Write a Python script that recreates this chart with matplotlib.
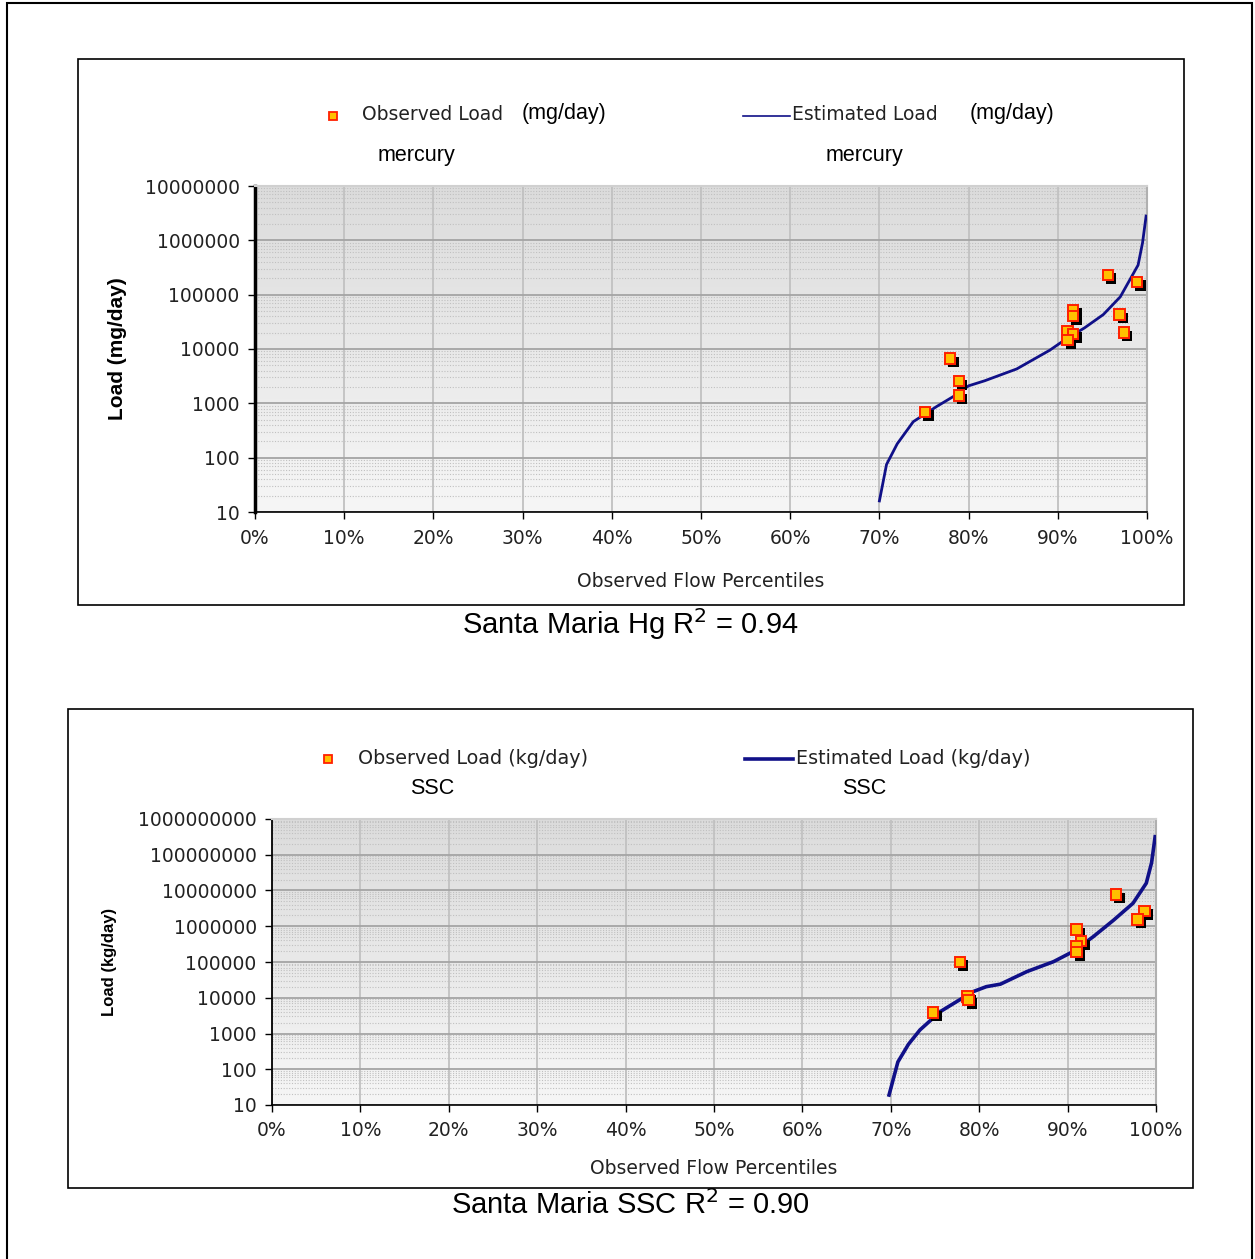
import numpy as np
import matplotlib
matplotlib.use("Agg")
import matplotlib.pyplot as plt
import matplotlib.patheffects as pe
from matplotlib.patches import Rectangle
from matplotlib.colors import LinearSegmentedColormap
from matplotlib.ticker import FixedLocator, LogLocator, NullFormatter

# ---------------- data ----------------
hg_obs_pct = [75.1, 77.9, 78.9, 78.9, 91.7, 91.7, 91.1, 91.7, 91.1, 95.6, 96.9, 97.4, 98.9]
hg_obs_load = [690, 6700, 2550, 1400, 52000, 40000, 21000, 19000, 14500, 230000, 43000, 20000, 170000]
hg_est_pct = [70.0, 70.8, 72.0, 73.8, 76.4, 78.5, 80.0, 81.8, 85.4, 89.1, 90.8, 93.0, 95.1, 97.0, 99.0, 99.5, 99.9]
hg_est_load = [16, 75, 180, 460, 870, 1400, 2100, 2600, 4300, 9500, 14800, 24500, 43000, 91000, 350000, 900000, 2800000]

ssc_obs_pct = [74.8, 77.8, 78.7, 78.8, 91.0, 91.5, 91.0, 91.0, 95.5, 98.7, 97.9]
ssc_obs_load = [3900, 100000, 10700, 8700, 810000, 380000, 270000, 190000, 7800000, 2700000, 1560000]
ssc_est_pct = [69.8, 70.8, 72.0, 73.3, 75.6, 79.3, 80.8, 82.4, 85.4, 88.4, 90.6, 92.9, 95.2, 97.4, 98.9, 99.5, 99.9]
ssc_est_load = [19, 160, 500, 1260, 4100, 14800, 20400, 24000, 54000, 102000, 195000, 510000, 1480000, 4400000, 16000000, 60000000, 320000000]

x_ticks = [0, 10, 20, 30, 40, 50, 60, 70, 80, 90, 100]
x_ticklabels = ["0%", "10%", "20%", "30%", "40%", "50%", "60%", "70%", "80%", "90%", "100%"]
hg_yticks = [10, 100, 1000, 10000, 100000, 1000000, 10000000]
ssc_yticks = [10, 100, 1000, 10000, 100000, 1000000, 10000000, 100000000, 1000000000]

W, H = 1255, 1259
fig = plt.figure(figsize=(W / 100, H / 100), dpi=100)
fig.patch.set_facecolor("white")

def fx(px):
    return px / W

def fy(py):
    return 1 - py / H

# outer border and chart boxes
fig.add_artist(Rectangle((fx(7), fy(1265)), fx(1252) - fx(7), fy(3) - fy(1265),
                         transform=fig.transFigure, fill=False, lw=1.5, ec="black"))
fig.add_artist(Rectangle((fx(78), fy(605)), fx(1184) - fx(78), fy(59) - fy(605),
                         transform=fig.transFigure, fill=False, lw=1.2, ec="black"))
fig.add_artist(Rectangle((fx(68), fy(1188)), fx(1193) - fx(68), fy(709) - fy(1188),
                         transform=fig.transFigure, fill=False, lw=1.2, ec="black"))

tick_font = dict(family="DejaVu Sans", size=13.5, color="#222222")
line_color = "#101088"
marker_face = "#ffc000"
marker_edge = "#ff2000"
shadow = [pe.SimplePatchShadow(offset=(2.5, -2.5), shadow_rgbFace="black", alpha=1.0), pe.Normal()]
bg_cmap = LinearSegmentedColormap.from_list("bg", ["#f6f6f6", "#dcdcdc"])


def style_axes(ax, yticks, ymax, left_lw, xpad):
    ax.set_xlim(0, 100)
    ax.set_ylim(10, ymax)
    ax.set_yscale("log")
    grad = np.linspace(0, 1, 256).reshape(-1, 1)
    ax.imshow(grad, extent=(0, 1, 0, 1), transform=ax.transAxes, cmap=bg_cmap,
              vmin=0, vmax=1, aspect="auto", zorder=0, origin="lower")
    ax.xaxis.set_major_locator(FixedLocator(x_ticks))
    ax.set_xticklabels(x_ticklabels, **tick_font)
    ax.yaxis.set_major_locator(FixedLocator(yticks))
    ax.set_yticklabels([str(v) for v in yticks], **tick_font)
    ax.yaxis.set_minor_locator(LogLocator(base=10, subs=np.arange(2, 10), numticks=20))
    ax.yaxis.set_minor_formatter(NullFormatter())
    ax.grid(axis="x", which="major", color="#c4c4c4", lw=1.4, zorder=1)
    ax.grid(axis="y", which="major", color="#a4a4a4", lw=1.3, zorder=1)
    ax.grid(axis="y", which="minor", color="#c0c0c0", lw=0.8, ls=(0, (1, 1.5)), zorder=1)
    ax.set_axisbelow(True)
    ax.tick_params(axis="y", which="minor", length=0)
    ax.tick_params(axis="y", which="major", direction="out", length=5, width=1, color="black", pad=6)
    ax.tick_params(axis="x", which="major", direction="out", length=5, width=1, color="black", pad=xpad)
    ax.spines["left"].set_linewidth(left_lw)
    ax.spines["bottom"].set_linewidth(1.2)
    ax.spines["right"].set_color("#b0b0b0")
    ax.spines["top"].set_color("#d0d0d0")
    ax.spines["right"].set_linewidth(1.5)
    ax.spines["top"].set_linewidth(1.5)


# ---------------- top chart ----------------
ax1 = fig.add_axes([fx(255), fy(512), fx(1147) - fx(255), fy(186) - fy(512)])
style_axes(ax1, hg_yticks, 10000000, 2.5, 7.5)
ax1.plot(hg_est_pct, hg_est_load, color=line_color, lw=2.0, zorder=3)
ax1.plot(hg_obs_pct, hg_obs_load, ls="none", marker="s", ms=7.5, mfc=marker_face, mec=marker_edge,
         mew=1.4, zorder=4, path_effects=shadow)
ax1.set_xlabel("Observed Flow Percentiles", fontsize=13.5, family="DejaVu Sans", color="#222222", labelpad=17)
ax1.set_ylabel("Load (mg/day)", fontsize=15, family="Liberation Sans", weight="bold", labelpad=13)

fig.lines.append(plt.Line2D([fx(333)], [fy(116)], transform=fig.transFigure, marker="s", ms=6,
                            mfc=marker_face, mec=marker_edge, mew=1.3, ls="none"))
fig.text(fx(362), fy(115), "Observed Load", fontsize=13.5, family="DejaVu Sans", color="#222222", va="center")
fig.text(fx(522), fy(113), "(mg/day)", fontsize=15.5, family="Liberation Sans", va="center")
fig.text(fx(378), fy(156), "mercury", fontsize=15.5, family="Liberation Sans", va="center")
fig.lines.append(plt.Line2D([fx(743), fx(790)], [fy(116), fy(116)], transform=fig.transFigure,
                            color=line_color, lw=1.2))
fig.text(fx(792), fy(115), "Estimated Load", fontsize=13.5, family="DejaVu Sans", color="#222222", va="center")
fig.text(fx(970), fy(113), "(mg/day)", fontsize=15.5, family="Liberation Sans", va="center")
fig.text(fx(826), fy(156), "mercury", fontsize=15.5, family="Liberation Sans", va="center")

fig.text(fx(630), fy(624), "Santa Maria Hg R$^2$ = 0.94", fontsize=21, family="Liberation Sans",
         ha="center", va="center")

# ---------------- bottom chart ----------------
ax2 = fig.add_axes([fx(272), fy(1105), fx(1156) - fx(272), fy(819) - fy(1105)])
style_axes(ax2, ssc_yticks, 1000000000, 1.3, 6.5)
ax2.plot(ssc_est_pct, ssc_est_load, color=line_color, lw=2.6, zorder=3)
ax2.plot(ssc_obs_pct, ssc_obs_load, ls="none", marker="s", ms=7.5, mfc=marker_face, mec=marker_edge,
         mew=1.4, zorder=4, path_effects=shadow)
ax2.set_xlabel("Observed Flow Percentiles", fontsize=13.5, family="DejaVu Sans", color="#222222", labelpad=14)
ax2.set_ylabel("Load (kg/day)", fontsize=12, family="Liberation Sans", weight="bold", labelpad=15)

fig.lines.append(plt.Line2D([fx(328)], [fy(759)], transform=fig.transFigure, marker="s", ms=6,
                            mfc=marker_face, mec=marker_edge, mew=1.3, ls="none"))
fig.text(fx(358), fy(758), "Observed Load (kg/day)", fontsize=13.8, family="DejaVu Sans", color="#222222", va="center")
fig.text(fx(410), fy(788), "SSC", fontsize=15.5, family="Liberation Sans", va="center")
fig.lines.append(plt.Line2D([fx(745), fx(793)], [fy(759), fy(759)], transform=fig.transFigure,
                            color=line_color, lw=2.6))
fig.text(fx(796), fy(758), "Estimated Load (kg/day)", fontsize=13.8, family="DejaVu Sans", color="#222222", va="center")
fig.text(fx(842), fy(788), "SSC", fontsize=15.5, family="Liberation Sans", va="center")

fig.text(fx(630), fy(1205), "Santa Maria SSC R$^2$ = 0.90", fontsize=21, family="Liberation Sans",
         ha="center", va="center")

fig.savefig("out.png", dpi=100, facecolor="white")
